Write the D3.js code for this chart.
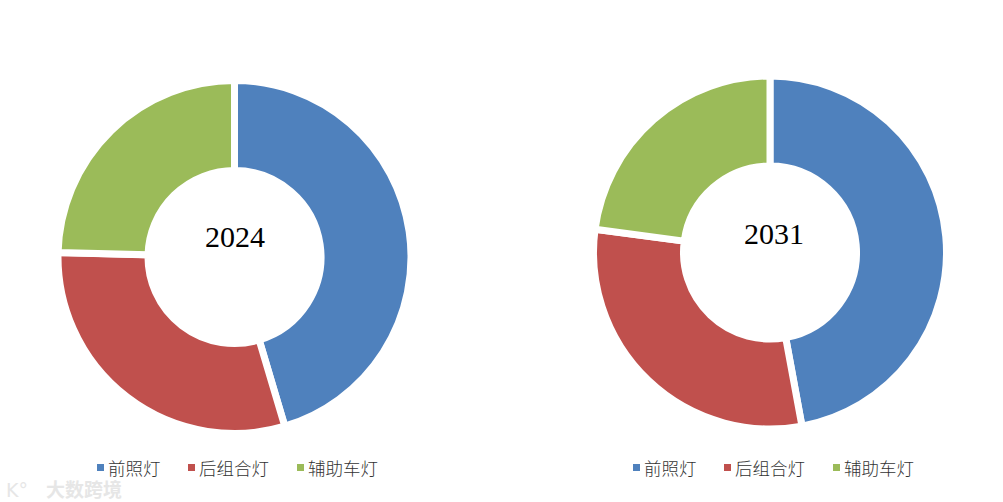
<!DOCTYPE html>
<html><head><meta charset="utf-8">
<script src="https://cdn.jsdelivr.net/npm/d3@7"></script>
<style>body{margin:0;background:#fff}svg{display:block}</style>
</head><body>
<svg id="c" width="1003" height="502"></svg>
<script>
const categories = ["前照灯", "后组合灯", "辅助车灯"];
const years = ["2024", "2031"];
const values2024 = [45.4, 30.0, 24.6];
const values2031 = [47.1, 30.0, 22.9];
const colors = ["#4F81BD", "#C0504D", "#9BBB59"];

const svg = d3.select("#c");
const charts = [
  {year: years[0], values: values2024, cx: 234.5, cy: 257, tx: 235, ty: 247, lx: 97},
  {year: years[1], values: values2031, cx: 770, cy: 252.5, tx: 774, ty: 244, lx: 633}
];
const pie = d3.pie().sort(null).value(d => d);
const arc = d3.arc().innerRadius(86.5).outerRadius(176.5);
const color = d3.scaleOrdinal().domain(categories).range(colors);

charts.forEach(c => {
  const g = svg.append("g").attr("transform", `translate(${c.cx},${c.cy})`);
  g.selectAll("path").data(pie(c.values)).join("path")
    .attr("d", arc)
    .attr("fill", (d, i) => color(categories[i]))
    .attr("stroke", "#fff").attr("stroke-width", 7).attr("stroke-linejoin", "miter");
  svg.append("text").attr("x", c.tx).attr("y", c.ty)
    .attr("text-anchor", "middle")
    .attr("font-family", "'Liberation Serif', 'DejaVu Serif', serif")
    .attr("font-size", 30).attr("fill", "#000").text(c.year);
  const offsets = [0, 91, 200];
  const lg = svg.append("g").attr("transform", `translate(${c.lx},${468})`);
  categories.forEach((cat, i) => {
    lg.append("rect").attr("x", offsets[i]).attr("y", -4).attr("width", 7).attr("height", 7)
      .attr("fill", color(cat));
    lg.append("text").attr("x", offsets[i] + 11).attr("y", 7)
      .attr("font-family", "'Noto Sans CJK SC', sans-serif").attr("font-size", 17.5)
      .attr("font-weight", 300)
      .attr("fill", "#333").text(cat);
  });
});

// watermark
svg.append("text").attr("x", 46).attr("y", 497)
  .attr("font-family", "'Noto Sans CJK SC', sans-serif").attr("font-size", 19)
  .attr("fill", "#e6e6e6").attr("font-weight", "bold").text("大数跨境");
svg.append("text").attr("x", 6).attr("y", 497)
  .attr("font-family", "'DejaVu Sans', sans-serif").attr("font-size", 19)
  .attr("fill", "#e6e6e6").text("K°");
</script>
</body></html>
